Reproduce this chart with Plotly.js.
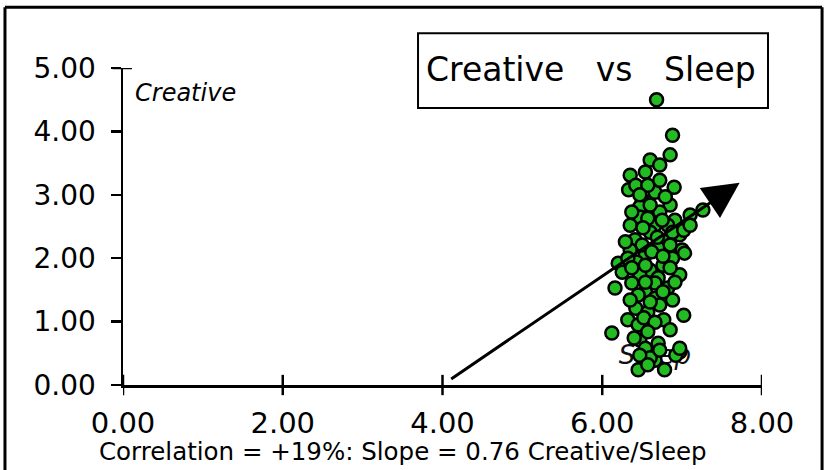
<!DOCTYPE html>
<html>
<head>
<meta charset="utf-8">
<script src="https://cdn.plot.ly/plotly-3.0.1.min.js"></script>
<style>html,body{margin:0;padding:0;background:#fff;}#chart{width:825px;height:470px;}</style>
</head>
<body>
<div id="chart"></div>
<script>
// Data
const sleep = [6.68,6.88,6.85,6.60,6.72,6.35,6.54,6.90,6.33,6.66,6.50,6.47,6.85,6.72,7.10,7.26,6.47,6.35,6.91,6.82,
  6.66,6.60,6.97,6.41,6.79,6.70,7.00,6.54,7.03,6.88,6.20,6.43,6.76,6.60,6.25,6.47,6.97,6.70,6.37,6.16,
  6.82,6.54,6.66,6.88,6.42,7.02,6.72,6.57,6.32,6.45,6.77,6.12,6.47,6.70,6.54,6.97,6.92,6.66,6.45,6.78,
  6.60,6.42,6.57,6.72,6.47,6.79,6.60,6.37,6.57,6.75,6.51,6.88,6.69,6.50,6.85,6.35,6.62,6.76,6.32,6.54,
  6.85,6.37,6.66,6.91,6.54,6.76,6.45,6.60,6.35,6.52,6.66,6.85,6.57,6.40,6.72,6.97,6.47,6.57,6.29,7.02,7.10];
const creative = [4.50,3.94,3.63,3.55,3.47,3.31,3.36,3.12,3.08,3.04,2.92,2.81,2.84,2.73,2.68,2.76,2.65,2.52,2.60,2.52,
  2.52,2.41,2.37,2.29,2.26,2.16,2.13,2.05,2.08,2.00,1.92,1.94,1.89,1.81,1.78,1.74,1.74,1.69,1.61,1.53,
  1.53,1.47,1.37,1.34,1.21,1.10,1.26,1.15,1.03,0.95,1.03,0.82,0.71,0.66,0.58,0.52,0.47,0.39,0.24,0.24,
  0.43,3.15,3.15,3.23,3.00,2.97,2.84,2.73,2.63,2.60,2.48,2.41,2.33,2.21,2.21,2.13,2.10,2.03,2.00,1.89,
  1.85,1.85,1.61,1.62,1.62,1.47,1.42,1.31,1.34,1.06,0.99,0.87,0.84,0.74,0.55,0.58,0.47,0.32,2.26,2.44,2.52];
const xTicks = [0, 2, 4, 6, 8];
const xTickLabels = ["0.00", "2.00", "4.00", "6.00", "8.00"];
const yTicks = [0, 1, 2, 3, 4, 5];
const yTickLabels = ["0.00", "1.00", "2.00", "3.00", "4.00", "5.00"];
const arrowFrom = [4.09, 0.08];
const arrowTo = [7.72, 3.19];
const titleText = "Creative&nbsp;&nbsp;&nbsp;vs&nbsp;&nbsp;&nbsp;Sleep";
const yLabel = "Creative";
const xLabel = "Sleep";
const footer = "Correlation = +19%: Slope = 0.76 Creative/Sleep";

const FONT = "DejaVu Sans, sans-serif";

const traces = [
  {
    type: "scatter", mode: "text", x: [6.66], y: [0.44], text: [xLabel],
    textfont: {family: FONT, size: 26, color: "#111", style: "italic"},
    hoverinfo: "skip", showlegend: false, cliponaxis: false
  },
  {
    type: "scatter", mode: "markers", x: sleep, y: creative,
    marker: {size: 13, color: "#22bb22", line: {color: "#000", width: 2.5}},
    showlegend: false, cliponaxis: false
  }
];

const shapes = [];
// crossing x tick marks
xTicks.forEach(v => {
  shapes.push({type: "line", xref: "x", yref: "paper", x0: v, x1: v, y0: -0.032, y1: 0.032,
    line: {color: "#000", width: 2.5}});
});
// cap at top of y axis
shapes.push({type: "line", xref: "paper", yref: "y", x0: -0.016, x1: 0.014, y0: 5, y1: 5,
  line: {color: "#000", width: 2.5}});
// title box
shapes.push({type: "rect", xref: "paper", yref: "paper", x0: 0.4617, x1: 1.0094, y0: 0.874, y1: 1.110,
  line: {color: "#000", width: 2}, fillcolor: "#fff", layer: "below"});
// outer frame
shapes.push({type: "line", xref: "paper", yref: "paper", x0: -0.1847, x1: -0.1847, y0: -0.3, y1: 1.192,
  line: {color: "#000", width: 3}});
shapes.push({type: "line", xref: "paper", yref: "paper", x0: -0.1847, x1: 1.094, y0: 1.192, y1: 1.192,
  line: {color: "#000", width: 3}});
shapes.push({type: "line", xref: "paper", yref: "paper", x0: 1.094, x1: 1.094, y0: -0.3, y1: 1.192,
  line: {color: "#000", width: 3}});

const annotations = [
  {xref: "paper", yref: "paper", x: 0.7324, y: 0.9937, text: titleText, showarrow: false,
    xanchor: "center", yanchor: "middle", font: {family: FONT, size: 33, color: "#000"}},
  {xref: "paper", yref: "paper", x: 0.0156, y: 0.921, text: yLabel, showarrow: false,
    xanchor: "left", yanchor: "middle", font: {family: FONT, size: 24, color: "#000", style: "italic"}},
  {xref: "paper", yref: "paper", x: 0.438, y: -0.211, text: footer, showarrow: false,
    xanchor: "center", yanchor: "middle", font: {family: FONT, size: 24.5, color: "#000"}},
  {xref: "x", yref: "y", axref: "x", ayref: "y", x: arrowTo[0], y: arrowTo[1], ax: arrowFrom[0], ay: arrowFrom[1],
    text: "", showarrow: true, arrowhead: 2, arrowsize: 2.4, arrowwidth: 3, arrowcolor: "#000"}
];

const layout = {
  width: 825, height: 470,
  margin: {l: 123, r: 63, t: 68, b: 85, pad: 0},
  paper_bgcolor: "#fff", plot_bgcolor: "#fff",
  showlegend: false,
  xaxis: {range: [0, 8], tickvals: xTicks, ticktext: xTickLabels, ticks: "", showgrid: false, zeroline: false,
    showline: true, linecolor: "#000", linewidth: 2.5, ticklabelstandoff: 11,
    tickfont: {family: FONT, size: 29, color: "#000"}, fixedrange: true},
  yaxis: {range: [0, 5], tickvals: yTicks, ticktext: yTickLabels, ticks: "outside", ticklen: 10, tickwidth: 2.5,
    tickcolor: "#000", showgrid: false, zeroline: false, showline: true, linecolor: "#000", linewidth: 2.5,
    ticklabelstandoff: 9, tickfont: {family: FONT, size: 28, color: "#000"}, fixedrange: true},
  shapes: shapes,
  annotations: annotations
};

Plotly.newPlot("chart", traces, layout, {displayModeBar: false, staticPlot: true});
</script>
</body>
</html>
